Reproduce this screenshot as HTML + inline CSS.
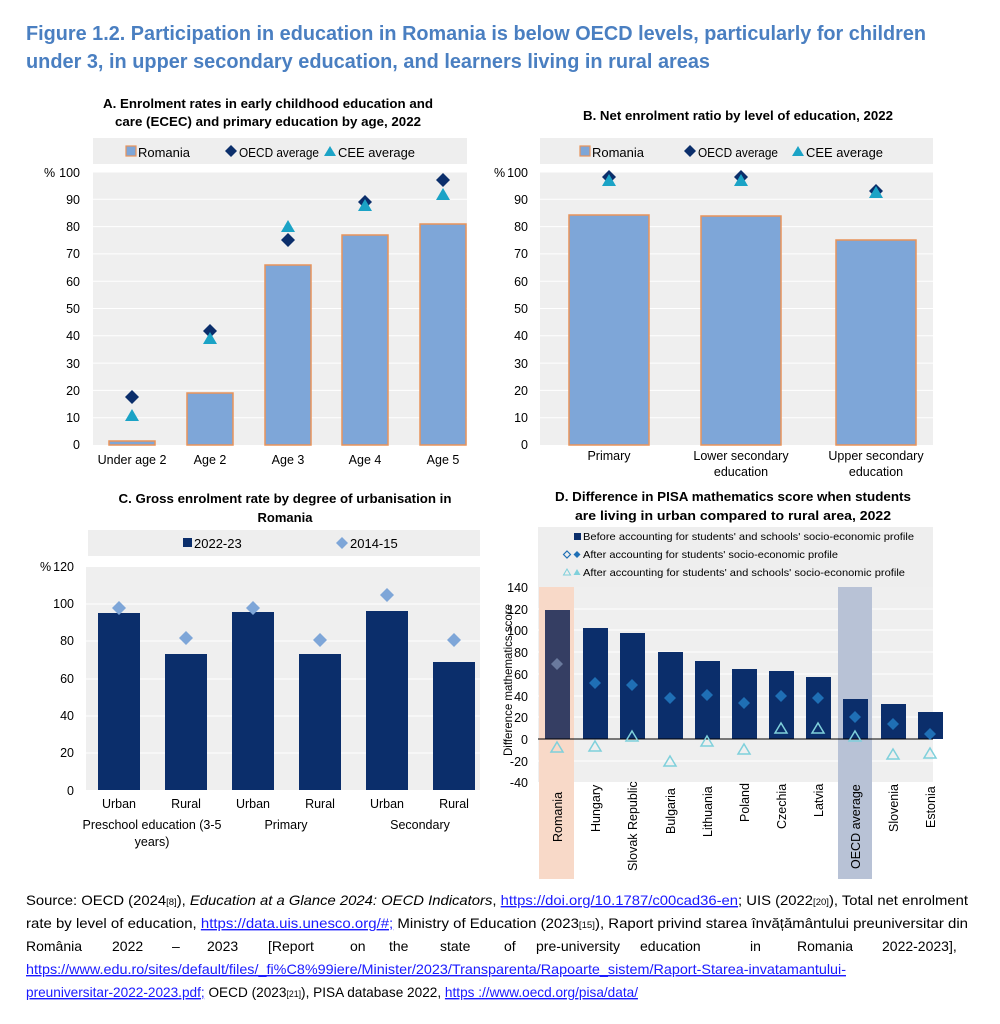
<!DOCTYPE html>
<html><head><meta charset="utf-8"><style>
html,body{margin:0;padding:0;background:#fff;}
svg{display:block;font-family:"Liberation Sans",sans-serif;}
</style></head><body>
<svg width="1000" height="1024" viewBox="0 0 1000 1024" xmlns="http://www.w3.org/2000/svg">
<!-- Title -->
<g fill="#4a7fc1" font-weight="bold" font-size="20">
<text x="26" y="40" textLength="900" lengthAdjust="spacingAndGlyphs">Figure 1.2. Participation in education in Romania is below OECD levels, particularly for children</text>
<text x="26" y="68" textLength="684" lengthAdjust="spacingAndGlyphs">under 3, in upper secondary education, and learners living in rural areas</text>
</g>

<!-- Panel A -->
<g font-size="13" fill="#000">
<text x="268" y="108" font-weight="bold" text-anchor="middle" textLength="330" lengthAdjust="spacingAndGlyphs">A. Enrolment rates in early childhood education and</text>
<text x="268" y="126" font-weight="bold" text-anchor="middle" textLength="306" lengthAdjust="spacingAndGlyphs">care (ECEC) and primary education by age, 2022</text>
<rect x="93" y="138" width="374" height="26" fill="#eeeeee"/>
<rect x="126" y="146" width="10" height="10" fill="#7ea6d8" stroke="#e8935a" stroke-width="1.2"/>
<text x="138" y="157" textLength="52" lengthAdjust="spacingAndGlyphs">Romania</text>
<path d="M231 145 l6 6 -6 6 -6 -6z" fill="#0b2e6b"/>
<text x="239" y="157" textLength="80" lengthAdjust="spacingAndGlyphs">OECD average</text>
<path d="M330 146 l6 10 h-12z" fill="#1ba3c6"/>
<text x="338" y="157" textLength="77" lengthAdjust="spacingAndGlyphs">CEE average</text>
<rect x="93" y="172" width="374" height="273" fill="#efefef"/>
<g stroke="#fff" stroke-width="1">
<line x1="93" x2="467" y1="172" y2="172"/><line x1="93" x2="467" y1="199.3" y2="199.3"/><line x1="93" x2="467" y1="226.6" y2="226.6"/><line x1="93" x2="467" y1="253.9" y2="253.9"/><line x1="93" x2="467" y1="281.2" y2="281.2"/><line x1="93" x2="467" y1="308.5" y2="308.5"/><line x1="93" x2="467" y1="335.8" y2="335.8"/><line x1="93" x2="467" y1="363.1" y2="363.1"/><line x1="93" x2="467" y1="390.4" y2="390.4"/><line x1="93" x2="467" y1="417.7" y2="417.7"/>
</g>
<g text-anchor="end" font-size="12.5">
<text x="80" y="177">100</text><text x="80" y="204">90</text><text x="80" y="231">80</text><text x="80" y="258">70</text><text x="80" y="286">60</text><text x="80" y="313">50</text><text x="80" y="340">40</text><text x="80" y="368">30</text><text x="80" y="395">20</text><text x="80" y="422">10</text><text x="80" y="449">0</text>
</g>
<text x="44" y="177" font-size="12.5">%</text>
<g fill="#7ea6d8" stroke="#e8935a" stroke-width="1.5">
<rect x="109" y="441" width="46" height="4"/>
<rect x="187" y="393" width="46" height="52"/>
<rect x="265" y="265" width="46" height="180"/>
<rect x="342" y="235" width="46" height="210"/>
<rect x="420" y="224" width="46" height="221"/>
</g>
<g fill="#0b2e6b">
<path d="M132 390 l7 7 -7 7 -7 -7z"/><path d="M210 324 l7 7 -7 7 -7 -7z"/><path d="M288 233 l7 7 -7 7 -7 -7z"/><path d="M365 195 l7 7 -7 7 -7 -7z"/><path d="M443 173 l7 7 -7 7 -7 -7z"/>
</g>
<g fill="#1ba3c6">
<path d="M132 409 l7 12 h-14z"/><path d="M210 332 l7 12 h-14z"/><path d="M288 220 l7 12 h-14z"/><path d="M365 199 l7 12 h-14z"/><path d="M443 188 l7 12 h-14z"/>
</g>
<g text-anchor="middle" font-size="12.5">
<text x="132" y="464">Under age 2</text><text x="210" y="464">Age 2</text><text x="288" y="464">Age 3</text><text x="365" y="464">Age 4</text><text x="443" y="464">Age 5</text>
</g>
</g>

<!-- Panel B -->
<g font-size="13" fill="#000">
<text x="738" y="120" font-weight="bold" text-anchor="middle" textLength="310" lengthAdjust="spacingAndGlyphs">B. Net enrolment ratio by level of education, 2022</text>
<rect x="540" y="138" width="393" height="26" fill="#eeeeee"/>
<rect x="580" y="146" width="10" height="10" fill="#7ea6d8" stroke="#e8935a" stroke-width="1.2"/>
<text x="592" y="157" textLength="52" lengthAdjust="spacingAndGlyphs">Romania</text>
<path d="M690 145 l6 6 -6 6 -6 -6z" fill="#0b2e6b"/>
<text x="698" y="157" textLength="80" lengthAdjust="spacingAndGlyphs">OECD average</text>
<path d="M798 146 l6 10 h-12z" fill="#1ba3c6"/>
<text x="806" y="157" textLength="77" lengthAdjust="spacingAndGlyphs">CEE average</text>
<rect x="540" y="172" width="393" height="273" fill="#efefef"/>
<g stroke="#fff" stroke-width="1">
<line x1="540" x2="933" y1="172" y2="172"/><line x1="540" x2="933" y1="199.3" y2="199.3"/><line x1="540" x2="933" y1="226.6" y2="226.6"/><line x1="540" x2="933" y1="253.9" y2="253.9"/><line x1="540" x2="933" y1="281.2" y2="281.2"/><line x1="540" x2="933" y1="308.5" y2="308.5"/><line x1="540" x2="933" y1="335.8" y2="335.8"/><line x1="540" x2="933" y1="363.1" y2="363.1"/><line x1="540" x2="933" y1="390.4" y2="390.4"/><line x1="540" x2="933" y1="417.7" y2="417.7"/>
</g>
<g text-anchor="end" font-size="12.5">
<text x="528" y="177">100</text><text x="528" y="204">90</text><text x="528" y="231">80</text><text x="528" y="258">70</text><text x="528" y="286">60</text><text x="528" y="313">50</text><text x="528" y="340">40</text><text x="528" y="368">30</text><text x="528" y="395">20</text><text x="528" y="422">10</text><text x="528" y="449">0</text>
</g>
<text x="494" y="177" font-size="12.5">%</text>
<g fill="#7ea6d8" stroke="#e8935a" stroke-width="1.5">
<rect x="569" y="215" width="80" height="230"/>
<rect x="701" y="216" width="80" height="229"/>
<rect x="836" y="240" width="80" height="205"/>
</g>
<g fill="#0b2e6b">
<path d="M609 170 l7 7 -7 7 -7 -7z"/><path d="M741 170 l7 7 -7 7 -7 -7z"/><path d="M876 184 l7 7 -7 7 -7 -7z"/>
</g>
<g fill="#1ba3c6">
<path d="M609 174 l7 12 h-14z"/><path d="M741 174 l7 12 h-14z"/><path d="M876 186 l7 12 h-14z"/>
</g>
<g text-anchor="middle" font-size="12.5">
<text x="609" y="460">Primary</text><text x="741" y="460">Lower secondary</text><text x="741" y="476">education</text><text x="876" y="460">Upper secondary</text><text x="876" y="476">education</text>
</g>
</g>

<!-- Panel C -->
<g font-size="13" fill="#000">
<text x="285" y="503" font-weight="bold" text-anchor="middle" textLength="333" lengthAdjust="spacingAndGlyphs">C. Gross enrolment rate by degree of urbanisation in</text>
<text x="285" y="522" font-weight="bold" text-anchor="middle">Romania</text>
<rect x="88" y="530" width="392" height="26" fill="#eeeeee"/>
<rect x="183" y="538" width="9" height="9" fill="#0b2e6b"/>
<text x="194" y="548">2022-23</text>
<path d="M342 537 l6 6 -6 6 -6 -6z" fill="#7ea6d8"/>
<text x="350" y="548">2014-15</text>
<rect x="86" y="567" width="394" height="223" fill="#efefef"/>
<g stroke="#fff" stroke-width="1">
<line x1="86" x2="480" y1="604" y2="604"/><line x1="86" x2="480" y1="641" y2="641"/><line x1="86" x2="480" y1="679" y2="679"/><line x1="86" x2="480" y1="716" y2="716"/><line x1="86" x2="480" y1="753" y2="753"/>
</g>
<g text-anchor="end" font-size="12.5">
<text x="74" y="571">120</text><text x="74" y="608">100</text><text x="74" y="645">80</text><text x="74" y="683">60</text><text x="74" y="720">40</text><text x="74" y="757">20</text><text x="74" y="795">0</text>
</g>
<text x="40" y="571" font-size="12.5">%</text>
<g fill="#0b2e6b">
<rect x="98" y="613" width="42" height="177"/>
<rect x="165" y="654" width="42" height="136"/>
<rect x="232" y="612" width="42" height="178"/>
<rect x="299" y="654" width="42" height="136"/>
<rect x="366" y="611" width="42" height="179"/>
<rect x="433" y="662" width="42" height="128"/>
</g>
<g fill="#7ea6d8">
<path d="M119 601 l7 7 -7 7 -7 -7z"/><path d="M186 631 l7 7 -7 7 -7 -7z"/><path d="M253 601 l7 7 -7 7 -7 -7z"/><path d="M320 633 l7 7 -7 7 -7 -7z"/><path d="M387 588 l7 7 -7 7 -7 -7z"/><path d="M454 633 l7 7 -7 7 -7 -7z"/>
</g>
<g text-anchor="middle" font-size="12.5">
<text x="119" y="808">Urban</text><text x="186" y="808">Rural</text><text x="253" y="808">Urban</text><text x="320" y="808">Rural</text><text x="387" y="808">Urban</text><text x="454" y="808">Rural</text>
<text x="152" y="829">Preschool education (3-5</text><text x="152" y="846">years)</text>
<text x="286" y="829">Primary</text><text x="420" y="829">Secondary</text>
</g>
</g>

<!-- Panel D -->
<g font-size="13" fill="#000">
<text x="733" y="501" font-weight="bold" text-anchor="middle" textLength="356" lengthAdjust="spacingAndGlyphs">D. Difference in PISA mathematics score when students</text>
<text x="733" y="520" font-weight="bold" text-anchor="middle" textLength="316" lengthAdjust="spacingAndGlyphs">are living in urban compared to rural area, 2022</text>
<rect x="538" y="527" width="395" height="60" fill="#eeeeee"/>
<g font-size="10.5">
<rect x="574" y="533" width="7" height="7" fill="#0b2e6b"/>
<text x="583" y="540" textLength="331" lengthAdjust="spacingAndGlyphs">Before accounting for students' and schools' socio-economic profile</text>
<path d="M567 551 l3.5 3.5 -3.5 3.5 -3.5 -3.5z" fill="none" stroke="#1f6fb5" stroke-width="1.2"/>
<path d="M577 551 l3.5 3.5 -3.5 3.5 -3.5 -3.5z" fill="#1f6fb5"/>
<text x="583" y="558" textLength="255" lengthAdjust="spacingAndGlyphs">After accounting for students' socio-economic profile</text>
<path d="M567 569 l3.5 6 h-7z" fill="none" stroke="#7fd0db" stroke-width="1"/>
<path d="M577 569 l3.5 6 h-7z" fill="#7fd0db"/>
<text x="583" y="576" textLength="322" lengthAdjust="spacingAndGlyphs">After accounting for students' and schools' socio-economic profile</text>
</g>
<rect x="538" y="587" width="395" height="195" fill="#efefef"/>
<g stroke="#fff" stroke-width="1">
<line x1="538" x2="933" y1="609" y2="609"/><line x1="538" x2="933" y1="630" y2="630"/><line x1="538" x2="933" y1="652" y2="652"/><line x1="538" x2="933" y1="674" y2="674"/><line x1="538" x2="933" y1="696" y2="696"/><line x1="538" x2="933" y1="717" y2="717"/><line x1="538" x2="933" y1="761" y2="761"/>
</g>
<rect x="539" y="587" width="35" height="292" fill="#f8d9c8"/>
<rect x="838" y="587" width="34" height="292" fill="#b8c2d6"/>
<g text-anchor="end" font-size="12.5">
<text x="528" y="592">140</text><text x="528" y="614">120</text><text x="528" y="635">100</text><text x="528" y="657">80</text><text x="528" y="679">60</text><text x="528" y="701">40</text><text x="528" y="722">20</text><text x="528" y="744">0</text><text x="528" y="766">-20</text><text x="528" y="787">-40</text>
</g>
<text transform="translate(512,756) rotate(-90)" font-size="12" textLength="152" lengthAdjust="spacingAndGlyphs">Difference mathematics score</text>
<g fill="#0b2e6b">
<rect x="545" y="610" width="25" height="129" fill="#353e63"/>
<rect x="583" y="628" width="25" height="111"/>
<rect x="620" y="633" width="25" height="106"/>
<rect x="658" y="652" width="25" height="87"/>
<rect x="695" y="661" width="25" height="78"/>
<rect x="732" y="669" width="25" height="70"/>
<rect x="769" y="671" width="25" height="68"/>
<rect x="806" y="677" width="25" height="62"/>
<rect x="843" y="699" width="25" height="40"/>
<rect x="881" y="704" width="25" height="35"/>
<rect x="918" y="712" width="25" height="27"/>
</g>
<line x1="538" x2="933" y1="739" y2="739" stroke="#000" stroke-width="1"/>
<g fill="#1f6fb5">
<path d="M557 658 l6 6 -6 6 -6 -6z" fill="#6a7a9e"/><path d="M595 677 l6 6 -6 6 -6 -6z"/><path d="M632 679 l6 6 -6 6 -6 -6z"/><path d="M670 692 l6 6 -6 6 -6 -6z"/><path d="M707 689 l6 6 -6 6 -6 -6z"/><path d="M744 697 l6 6 -6 6 -6 -6z"/><path d="M781 690 l6 6 -6 6 -6 -6z"/><path d="M818 692 l6 6 -6 6 -6 -6z"/><path d="M855 711 l6 6 -6 6 -6 -6z"/><path d="M893 718 l6 6 -6 6 -6 -6z"/><path d="M930 728 l6 6 -6 6 -6 -6z"/>
</g>
<g fill="none" stroke="#7fd0db" stroke-width="1.5">
<path d="M557 742 l6 10 h-12z"/><path d="M595 741 l6 10 h-12z"/><path d="M632 731 l6 10 h-12z"/><path d="M670 756 l6 10 h-12z"/><path d="M707 736 l6 10 h-12z"/><path d="M744 744 l6 10 h-12z"/><path d="M781 723 l6 10 h-12z"/><path d="M818 723 l6 10 h-12z"/><path d="M855 731 l6 10 h-12z"/><path d="M893 749 l6 10 h-12z"/><path d="M930 748 l6 10 h-12z"/>
</g>
<g font-size="12.5">
<text transform="translate(562,842) rotate(-90)">Romania</text>
<text transform="translate(600,832) rotate(-90)">Hungary</text>
<text transform="translate(637,871) rotate(-90)">Slovak Republic</text>
<text transform="translate(675,834) rotate(-90)">Bulgaria</text>
<text transform="translate(712,837) rotate(-90)">Lithuania</text>
<text transform="translate(749,822) rotate(-90)">Poland</text>
<text transform="translate(786,829) rotate(-90)">Czechia</text>
<text transform="translate(823,817) rotate(-90)">Latvia</text>
<text transform="translate(860,869) rotate(-90)">OECD average</text>
<text transform="translate(898,832) rotate(-90)">Slovenia</text>
<text transform="translate(935,828) rotate(-90)">Estonia</text>
</g>
</g>

<!-- Source -->
<g font-size="14" fill="#000">
<text x="26" y="905" textLength="942" lengthAdjust="spacingAndGlyphs">Source: OECD (2024<tspan font-size="9">[8]</tspan>), <tspan font-style="italic">Education at a Glance 2024: OECD Indicators</tspan>, <tspan fill="#1a1aff" text-decoration="underline">https://doi.org/10.1787/c00cad36-en</tspan>; UIS (2022<tspan font-size="9">[20]</tspan>), Total net enrolment</text>
<text x="26" y="928" textLength="942" lengthAdjust="spacingAndGlyphs">rate by level of education, <tspan fill="#1a1aff" text-decoration="underline">https://data.uis.unesco.org/#;</tspan> Ministry of Education (2023<tspan font-size="9">[15]</tspan>), Raport privind starea învățământului preuniversitar din</text>
<text y="951"><tspan x="26">România</tspan><tspan x="112">2022</tspan><tspan x="172">–</tspan><tspan x="207">2023</tspan><tspan x="268">[Report</tspan><tspan x="350">on</tspan><tspan x="389">the</tspan><tspan x="440">state</tspan><tspan x="504">of</tspan><tspan x="536">pre-university</tspan><tspan x="640">education</tspan><tspan x="750">in</tspan><tspan x="797">Romania</tspan><tspan x="882">2022-2023],</tspan></text>
<text x="26" y="974" textLength="820" lengthAdjust="spacingAndGlyphs" fill="#1a1aff" text-decoration="underline">https://www.edu.ro/sites/default/files/_fi%C8%99iere/Minister/2023/Transparenta/Rapoarte_sistem/Raport-Starea-invatamantului-</text>
<text x="26" y="997" textLength="612" lengthAdjust="spacingAndGlyphs"><tspan fill="#1a1aff" text-decoration="underline">preuniversitar-2022-2023.pdf;</tspan> OECD (2023<tspan font-size="9">[21]</tspan>), PISA database 2022, <tspan fill="#1a1aff" text-decoration="underline">https ://www.oecd.org/pisa/data/</tspan></text>
</g>
</svg>
</body></html>
